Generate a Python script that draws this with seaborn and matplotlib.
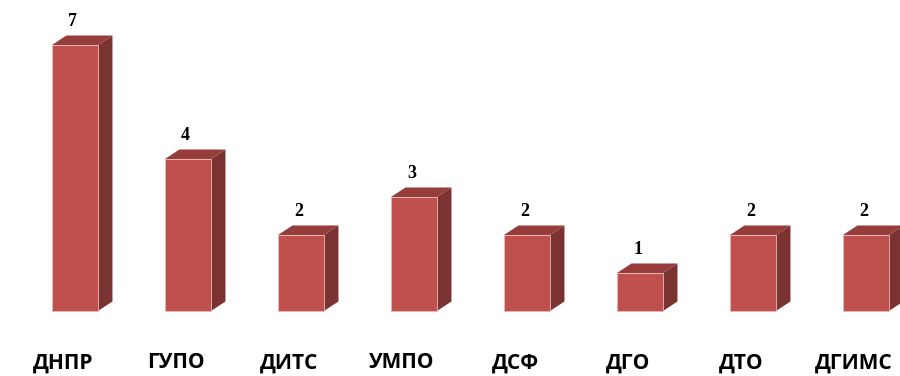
import matplotlib
matplotlib.use("Agg")
import matplotlib.pyplot as plt
from matplotlib.patches import Polygon
import seaborn as sns
import pandas as pd

departments = ["ДНПР", "ГУПО", "ДИТС", "УМПО", "ДСФ", "ДГО", "ДТО", "ДГИМС"]
counts = [7, 4, 2, 3, 2, 1, 2, 2]

front_color = "#C0504D"
side_color = "#7B3331"
top_color = "#963C3A"

sns.set_theme(style="white")
plt.rcParams['font.family'] = ['DejaVu Sans']

df = pd.DataFrame({"dept": departments, "n": counts})

fig = plt.figure(figsize=(9, 3.76), dpi=100)
ax = fig.add_axes([0, 0, 1, 1])

sns.barplot(data=df, x="dept", y="n", color=front_color, saturation=1,
            width=0.407, ax=ax, zorder=3)

ax.set_xlim(-0.6637, 7.3009)
ax.set_ylim(-1.711, 8.184)

# 3d depth (in data units)
dx = 0.128
dy = 0.25

for bar, val in zip(ax.patches, counts):
    bar.set_edgecolor("#E9B8B6")
    bar.set_linewidth(0.6)
    x0 = bar.get_x()
    w = bar.get_width()
    h = bar.get_height()
    side = Polygon([(x0 + w, 0), (x0 + w + dx, dy), (x0 + w + dx, h + dy), (x0 + w, h)],
                   closed=True, facecolor=side_color, edgecolor="none", zorder=2)
    top = Polygon([(x0, h), (x0 + dx, h + dy), (x0 + w + dx, h + dy), (x0 + w, h)],
                  closed=True, facecolor=top_color, edgecolor="none", zorder=2)
    ax.add_patch(side)
    ax.add_patch(top)
    ax.text(x0 + w / 2 - 0.02, h + dy + 0.15, str(val), ha="center", va="bottom",
            fontsize=13, fontweight="bold", family="Liberation Serif", color="black")

for i, name in enumerate(departments):
    ax.text(i - 0.105, -1.36, name, ha="center", va="center", fontsize=15,
            fontweight="bold", family="Open Sans", color="black")

ax.set_xticks([])
ax.set_yticks([])
ax.set_xlabel("")
ax.set_ylabel("")
for s in ax.spines.values():
    s.set_visible(False)

fig.savefig("out.png", dpi=100)
